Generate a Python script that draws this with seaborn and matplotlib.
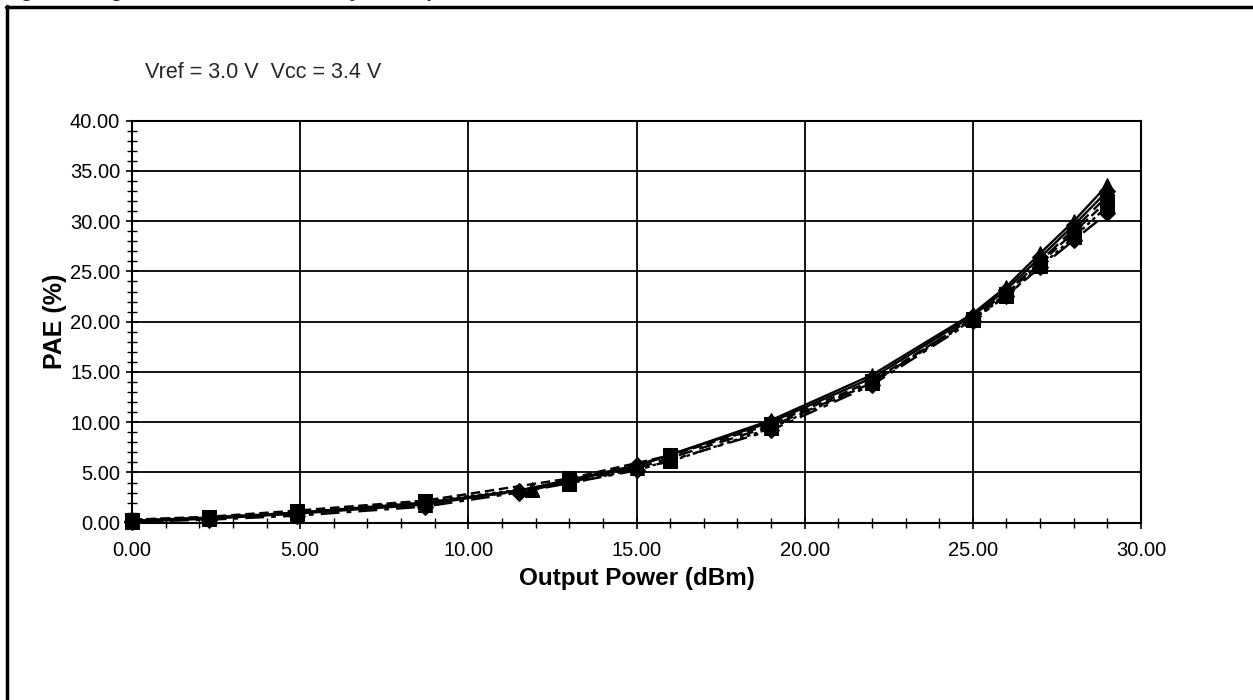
import numpy as np
import pandas as pd
import matplotlib
matplotlib.use('Agg')
import matplotlib.pyplot as plt
from matplotlib.lines import Line2D
from matplotlib.ticker import MultipleLocator, FormatStrFormatter
import seaborn as sns

# Output power (dBm) sample points for each marker family
x_diamond = [0.0, 2.3, 4.9, 8.7, 11.5, 15.0, 19.0, 22.0, 25.0, 26.0, 27.0, 28.0, 29.0]
x_square = [0.0, 2.3, 4.9, 8.7, 13.0, 16.0, 19.0, 22.0, 25.0, 26.0, 27.0, 28.0, 29.0]
x_triangle = [0.0, 2.3, 4.9, 8.7, 11.9, 15.0, 19.0, 22.0, 25.0, 26.0, 27.0, 28.0, 29.0]

# PAE (%)
pae_diamond_solid = [0.2, 0.5, 1.0, 2.0, 3.2, 5.7, 10.0, 14.4, 20.6, 23.2, 26.4, 29.6, 33.0]
pae_diamond_dashdot = [0.1, 0.3, 0.7, 1.6, 3.0, 5.2, 9.2, 13.7, 20.1, 22.6, 25.4, 28.1, 30.8]
pae_triangle_solid = [0.1, 0.4, 0.9, 1.8, 3.4, 5.6, 10.2, 14.7, 20.8, 23.5, 26.8, 30.0, 33.6]
pae_triangle_dash = [0.2, 0.5, 1.0, 1.9, 3.3, 5.4, 9.6, 13.9, 20.4, 22.9, 26.0, 29.2, 32.5]
pae_square_dashed = [0.3, 0.6, 1.2, 2.2, 4.4, 6.7, 9.8, 14.1, 20.3, 22.8, 25.8, 28.9, 32.0]
pae_square_dotted = [0.3, 0.5, 1.0, 2.1, 3.9, 6.1, 9.4, 13.9, 20.2, 22.6, 25.5, 28.4, 31.5]

series = [
    (x_triangle, pae_triangle_solid, '^', '-'),
    (x_triangle, pae_triangle_dash, '^', (0, (6, 3))),
    (x_diamond, pae_diamond_solid, 'D', '-'),
    (x_diamond, pae_diamond_dashdot, 'D', (0, (8, 3, 2, 3))),
    (x_square, pae_square_dashed, 's', (0, (4, 2))),
    (x_square, pae_square_dotted, 's', (0, (1.5, 1.5))),
]

sns.set_style('white')
plt.rcParams['font.family'] = ['Liberation Sans', 'DejaVu Sans']

fig = plt.figure(figsize=(12.53, 7), dpi=100)
ax = fig.add_axes([132 / 1253, 1 - 522.7 / 700, (1141 - 132) / 1253, (522.7 - 120.7) / 700])

for xs, ys, mk, ls in series:
    sns.lineplot(x=xs, y=ys, ax=ax, color='black', marker=mk, linestyle=ls,
                 linewidth=1.7, markersize=10 if mk != 'D' else 8.5,
                 markeredgecolor='black', sort=False, legend=False,
                 clip_on=False, zorder=3)

ax.set_xlim(0, 30)
ax.set_ylim(0, 40)
ax.xaxis.set_major_locator(MultipleLocator(5))
ax.xaxis.set_minor_locator(MultipleLocator(1))
ax.yaxis.set_major_locator(MultipleLocator(5))
ax.yaxis.set_minor_locator(MultipleLocator(1))
ax.xaxis.set_major_formatter(FormatStrFormatter('%.2f'))
ax.yaxis.set_major_formatter(FormatStrFormatter('%.2f'))
ax.grid(True, which='major', color='black', linewidth=1.3)
ax.tick_params(which='major', direction='inout', length=9, width=1.2,
               labelsize=14.5, colors='black')
ax.tick_params(axis='x', which='major', pad=9)
ax.tick_params(axis='y', which='major', pad=4)
ax.tick_params(which='minor', direction='inout', length=7, width=1.0, colors='black')
ax.tick_params(axis='y', which='both', left=True)
ax.tick_params(axis='x', which='both', bottom=True)
for sp in ax.spines.values():
    sp.set_color('black')
    sp.set_linewidth(1.5)

ax.set_xlabel('Output Power (dBm)', fontsize=17.5, fontweight='bold', labelpad=5,
              color='black')
ax.set_ylabel('PAE (%)', fontsize=18, fontweight='bold', labelpad=2, color='black')

fig.text(145 / 1253, 1 - 72 / 700, 'Vref = 3.0 V  Vcc = 3.4 V', fontsize=15.5,
         va='center', ha='left')

# cut-off caption at the very top of the page (only descenders show)
fig.text(5 / 1253, 1 + 3 / 700, 'Figure 8: High Power Added Efficiency vs Output Power',
         fontsize=14, fontweight='bold', fontstyle='italic', va='baseline', ha='left')

# page frame (top and left edges)
fig.add_artist(Line2D([6 / 1253, 1.0], [1 - 7 / 700, 1 - 7 / 700],
                      transform=fig.transFigure, color='black', linewidth=2.5))
fig.add_artist(Line2D([7 / 1253, 7 / 1253], [1 - 6 / 700, 0.0],
                      transform=fig.transFigure, color='black', linewidth=2.5))

fig.savefig('out.png', dpi=100)
